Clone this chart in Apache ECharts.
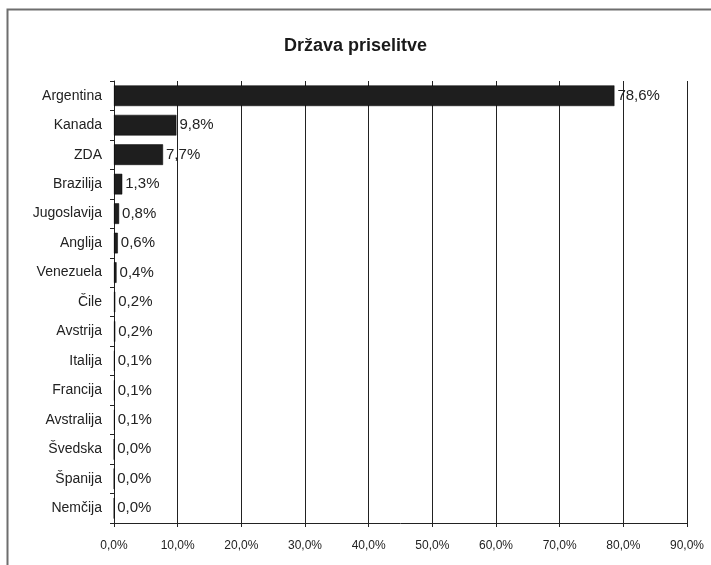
<!DOCTYPE html>
<html>
<head>
<meta charset="utf-8">
<script src="https://cdn.jsdelivr.net/npm/echarts@6/dist/echarts.min.js"></script>
<style>
  html, body { margin: 0; padding: 0; background: #fff; }
  #chart { width: 711px; height: 565px; }
</style>
</head>
<body>
<div id="chart"></div>
<script>
// Countries of emigration, share of emigrants (%)
const countries = ['Argentina', 'Kanada', 'ZDA', 'Brazilija', 'Jugoslavija', 'Anglija', 'Venezuela',
  'Čile', 'Avstrija', 'Italija', 'Francija', 'Avstralija', 'Švedska', 'Španija', 'Nemčija'];
const shares = [78.6, 9.8, 7.7, 1.3, 0.8, 0.6, 0.4, 0.2, 0.2, 0.1, 0.1, 0.1, 0.0, 0.0, 0.0];
const title = 'Država priselitve';

const fmt = v => v.toFixed(1).replace('.', ',') + '%';
const FONT = 'Liberation Sans, Arial, sans-serif';

const chart = echarts.init(document.getElementById('chart'), null, { renderer: 'canvas' });
chart.setOption({
  backgroundColor: '#ffffff',
  animation: false,
  title: {
    text: title,
    left: 'center',
    top: 32,
    textStyle: { fontFamily: FONT, fontSize: 18, fontWeight: 'bold', color: '#1a1a1a' }
  },
  graphic: [{
    type: 'rect',
    shape: { x: 7.5, y: 9.5, width: 720, height: 580 },
    style: { fill: 'none', stroke: '#6e6e6e', lineWidth: 2 },
    silent: true
  }],
  grid: { left: 114, right: 24, top: 81, bottom: 42 },
  xAxis: {
    type: 'value',
    min: 0,
    max: 90,
    interval: 10,
    axisLine: { show: true, lineStyle: { color: '#222', width: 1 } },
    axisTick: { show: true, length: 4, lineStyle: { color: '#222' } },
    splitLine: { show: true, lineStyle: { color: '#222', width: 1 } },
    axisLabel: {
      formatter: v => fmt(v),
      fontFamily: FONT,
      fontSize: 12,
      color: '#222',
      margin: 17
    }
  },
  yAxis: {
    type: 'category',
    data: countries,
    inverse: true,
    axisLine: { show: true, lineStyle: { color: '#222', width: 1 } },
    axisTick: { show: true, length: 4, lineStyle: { color: '#222' } },
    axisLabel: {
      fontFamily: FONT,
      fontSize: 14,
      color: '#222',
      margin: 12
    }
  },
  series: [{
    type: 'bar',
    data: shares,
    barWidth: '70%',
    itemStyle: { color: '#1e1e1e', borderColor: '#000', borderWidth: 0.5 },
    label: {
      show: true,
      position: 'right',
      distance: 3,
      formatter: p => fmt(p.value),
      fontFamily: FONT,
      fontSize: 15,
      color: '#222'
    }
  }]
});
</script>
</body>
</html>
